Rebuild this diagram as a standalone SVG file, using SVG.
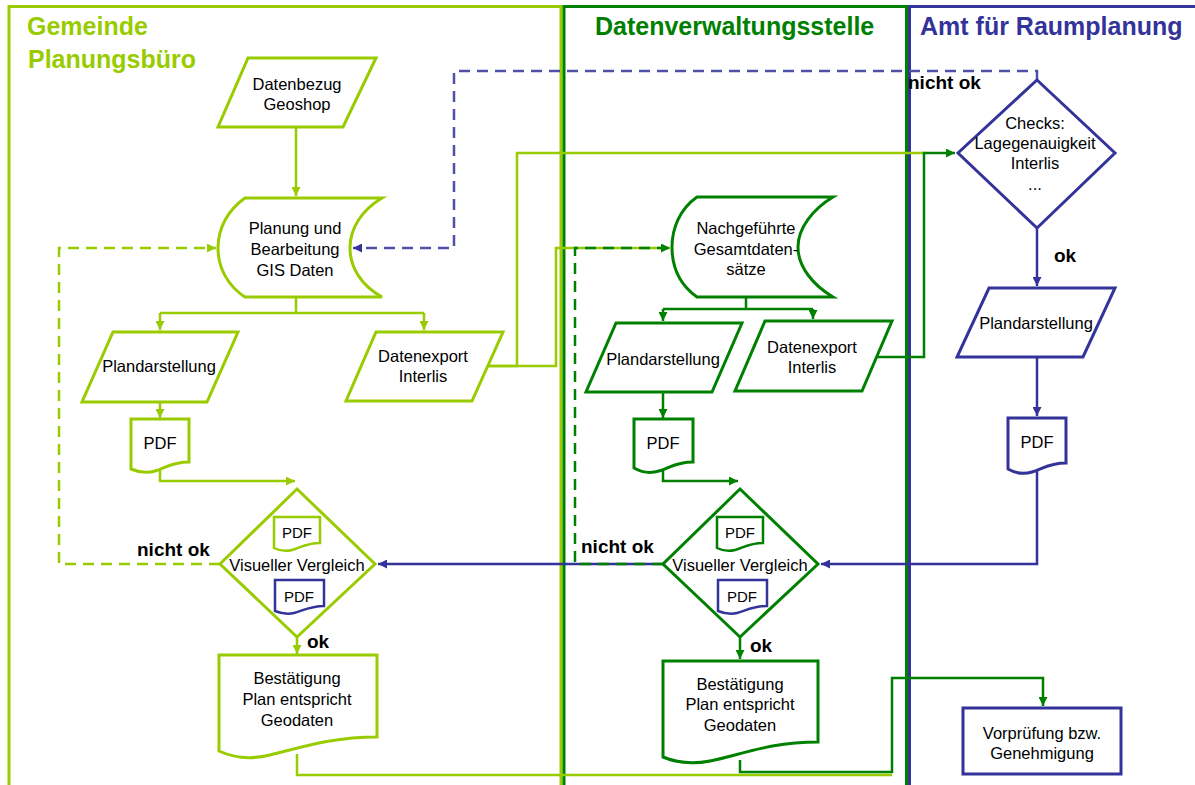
<svg xmlns="http://www.w3.org/2000/svg" width="1195" height="785" viewBox="0 0 1195 785">
<defs>
<style>
.lg{stroke:#99cc00}
.dg{stroke:#008000}
.bl{stroke:#333399}
.bld{stroke:#5050a8}
.lane{fill:none;stroke-width:3}
.shape{fill:#ffffff;stroke-width:3}
.small{fill:#ffffff;stroke-width:2.5}
.c{fill:none;stroke-width:2.5}
.dash{stroke-dasharray:11 7}
text{font-family:"Liberation Sans",Arial,Helvetica,sans-serif;fill:#000000}
.t{font-size:16.5px;text-anchor:middle}
.ts{font-size:15px;text-anchor:middle}
.lbl{font-size:19px;font-weight:bold}
.title{font-size:25px;font-weight:bold}
</style>
<marker id="aLG" viewBox="0 0 10 10" refX="10" refY="5" markerWidth="9" markerHeight="9" markerUnits="userSpaceOnUse" orient="auto"><path d="M0,0 L10,5 L0,10 Z" fill="#99cc00"/></marker>
<marker id="aDG" viewBox="0 0 10 10" refX="10" refY="5" markerWidth="9" markerHeight="9" markerUnits="userSpaceOnUse" orient="auto"><path d="M0,0 L10,5 L0,10 Z" fill="#008000"/></marker>
<marker id="aBL" viewBox="0 0 10 10" refX="10" refY="5" markerWidth="9" markerHeight="9" markerUnits="userSpaceOnUse" orient="auto"><path d="M0,0 L10,5 L0,10 Z" fill="#333399"/></marker>
</defs>
<rect x="0" y="0" width="1195" height="785" fill="#ffffff"/>

<g id="lanes">
<g id="lane-gemeinde">
<path class="lane lg" d="M9,785 V6.5 H561 V785"/>
<text class="title" x="27" y="35" style="fill:#99cc00">Gemeinde</text>
<text class="title" x="28" y="68" style="fill:#99cc00">Planungsbüro</text>
</g>
<g id="lane-datenverwaltung">
<path class="lane dg" d="M564,785 V6.5 H906.5 V785"/>
<text class="title" x="595" y="35" style="fill:#008000">Datenverwaltungsstelle</text>
</g>
<g id="lane-amt">
<path class="lane bl" d="M909.5,785 V6.5 H1195"/>
<text class="title" x="920" y="35" style="fill:#333399">Amt für Raumplanung</text>
</g>
</g>

<g id="connectors">
<!-- light green -->
<path class="c lg" d="M296,127 V196" marker-end="url(#aLG)"/>
<path class="c lg" d="M296,297 V313 M160,313 H424"/>
<path class="c lg" d="M160,313 V330" marker-end="url(#aLG)"/>
<path class="c lg" d="M424,313 V330" marker-end="url(#aLG)"/>
<path class="c lg" d="M160,402 V418" marker-end="url(#aLG)"/>
<path class="c lg" d="M160,468 V481 H295" marker-end="url(#aLG)"/>
<path class="c lg" d="M297,637 V654" marker-end="url(#aLG)"/>
<path class="c lg dash" d="M220,564 H59 V248 H216" marker-end="url(#aLG)"/>
<path class="c lg" d="M297,754 V775 H892"/>
<path class="c lg" d="M488,366 H517 V153 H925"/>
<path class="c lg" d="M488,366 H556 V248 H670"/>
<!-- blue -->
<path class="c bl" d="M1037,228 V286" marker-end="url(#aBL)"/>
<path class="c bl" d="M1037,357 V416" marker-end="url(#aBL)"/>
<path class="c bl" d="M1037,470 V564 H821" marker-end="url(#aBL)"/>
<path class="c bl" d="M663,564 H378" marker-end="url(#aBL)"/>
<path class="c bld dash" d="M1037,80 V71 H454 V248 H353" marker-end="url(#aBL)"/>
<!-- dark green -->
<path class="c dg" d="M746,297 V309 M663,309 H813"/>
<path class="c dg" d="M663,309 V321" marker-end="url(#aDG)"/>
<path class="c dg" d="M813,309 V319" marker-end="url(#aDG)"/>
<path class="c dg" d="M663,392 V418" marker-end="url(#aDG)"/>
<path class="c dg" d="M663,468 V481 H738" marker-end="url(#aDG)"/>
<path class="c dg" d="M740,637 V659" marker-end="url(#aDG)"/>
<path class="c dg dash" d="M663,564 H575 V248 H670" marker-end="url(#aDG)"/>
<path class="c dg" d="M877,357 H924 V153 H955" marker-end="url(#aDG)"/>
<path class="c dg" d="M740,760 V772 H892 V678 H1043 V706" marker-end="url(#aDG)"/>
</g>

<g id="n-datenbezug">
<polygon class="shape lg" points="248,58 376,58 343,127 218,127"/>
<text class="t" x="297" y="90">Datenbezug</text>
<text class="t" x="297" y="110">Geoshop</text>
</g>

<g id="n-planung">
<path class="shape lg" d="M245,198 H382 C362,210 350,228 350,248 C350,268 362,286 382,297 H245 C228,286 218,268 218,248 C218,228 228,210 245,198 Z"/>
<text class="t" x="295" y="234">Planung und</text>
<text class="t" x="295" y="255">Bearbeitung</text>
<text class="t" x="295" y="276">GIS Daten</text>
</g>

<g id="n-plan1">
<polygon class="shape lg" points="113,332 238,332 207,402 82,402"/>
<text class="t" x="159" y="372">Plandarstellung</text>
</g>

<g id="n-export1">
<polygon class="shape lg" points="376,332 503,332 472,401 346,401"/>
<text class="t" x="423" y="362">Datenexport</text>
<text class="t" x="423" y="382">Interlis</text>
</g>

<g id="n-pdf1">
<path class="shape lg" d="M131,419 H189 V462 C172,462 165,468 155,471 C145,474 138,472 131,469 Z"/>
<text class="t" x="160" y="449">PDF</text>
</g>

<g id="n-vergleich1">
<polygon class="shape lg" points="297,489 375,564 297,637 220,564"/>
<path class="small lg" d="M274,517 H320 V543 C306,543 300,548 292,550 C284,552 278,550 274,548 Z"/>
<text class="ts" x="297" y="538">PDF</text>
<path class="small bl" d="M275,580 H324 V606 C310,606 302,611 294,613 C286,615 280,613 275,611 Z"/>
<text class="ts" x="299" y="602">PDF</text>
<text class="t" x="297" y="571">Visueller Vergleich</text>
</g>

<g id="n-best1">
<path class="shape lg" d="M219,655 H377 V737 C330,737 300,748 270,755 C250,760 232,757 219,751 Z"/>
<text class="t" x="297" y="684">Bestätigung</text>
<text class="t" x="297" y="705">Plan entspricht</text>
<text class="t" x="297" y="726">Geodaten</text>
</g>

<g id="n-nachgefuehrt">
<path class="shape dg" d="M697,197 H833 C813,209 798,228 798,247 C798,267 813,285 833,297 H697 C680,285 672,267 672,247 C672,228 680,209 697,197 Z"/>
<text class="t" x="746" y="234">Nachgeführte</text>
<text class="t" x="746" y="255">Gesamtdaten-</text>
<text class="t" x="746" y="275">sätze</text>
</g>

<g id="n-plan2">
<polygon class="shape dg" points="616,323 742,323 712,392 586,392"/>
<text class="t" x="663" y="365">Plandarstellung</text>
</g>

<g id="n-export2">
<polygon class="shape dg" points="765,321 892,321 862,391 735,391"/>
<text class="t" x="812" y="353">Datenexport</text>
<text class="t" x="812" y="373">Interlis</text>
</g>

<g id="n-pdf2">
<path class="shape dg" d="M634,419 H693 V462 C676,462 669,468 659,471 C649,474 641,472 634,468 Z"/>
<text class="t" x="663" y="449">PDF</text>
</g>

<g id="n-vergleich2">
<polygon class="shape dg" points="740,489 818,564 740,637 663,564"/>
<path class="small dg" d="M717,517 H763 V543 C749,543 743,548 735,550 C727,552 721,550 717,548 Z"/>
<text class="ts" x="740" y="538">PDF</text>
<path class="small bl" d="M718,580 H767 V606 C753,606 745,611 737,613 C729,615 723,613 718,611 Z"/>
<text class="ts" x="742" y="602">PDF</text>
<text class="t" x="740" y="571">Visueller Vergleich</text>
</g>

<g id="n-best2">
<path class="shape dg" d="M663,661 H818 V742 C770,742 740,755 710,761 C690,765 675,762 663,757 Z"/>
<text class="t" x="740" y="690">Bestätigung</text>
<text class="t" x="740" y="710">Plan entspricht</text>
<text class="t" x="740" y="731">Geodaten</text>
</g>

<g id="n-checks">
<polygon class="shape bl" points="1037,80 1115,153 1037,228 958,153"/>
<text class="t" x="1035" y="129">Checks:</text>
<text class="t" x="1035" y="149">Lagegenauigkeit</text>
<text class="t" x="1035" y="169">Interlis</text>
<text class="t" x="1035" y="190">...</text>
</g>

<g id="n-plan3">
<polygon class="shape bl" points="989,288 1115,288 1083,357 957,357"/>
<text class="t" x="1036" y="329">Plandarstellung</text>
</g>

<g id="n-pdf3">
<path class="shape bl" d="M1008,418 H1066 V463 C1049,463 1042,469 1032,472 C1022,475 1015,473 1008,469 Z"/>
<text class="t" x="1037" y="448">PDF</text>
</g>

<g id="n-vorpruefung">
<rect class="shape bl" x="963" y="708" width="158" height="66"/>
<text class="t" x="1042" y="739">Vorprüfung bzw.</text>
<text class="t" x="1042" y="759">Genehmigung</text>
</g>

<g id="labels">
<text class="lbl" x="137" y="556">nicht ok</text>
<text class="lbl" x="307" y="648">ok</text>
<text class="lbl" x="581" y="553">nicht ok</text>
<text class="lbl" x="750" y="652">ok</text>
<text class="lbl" x="908" y="89">nicht ok</text>
<text class="lbl" x="1054" y="262">ok</text>
</g>
</svg>
